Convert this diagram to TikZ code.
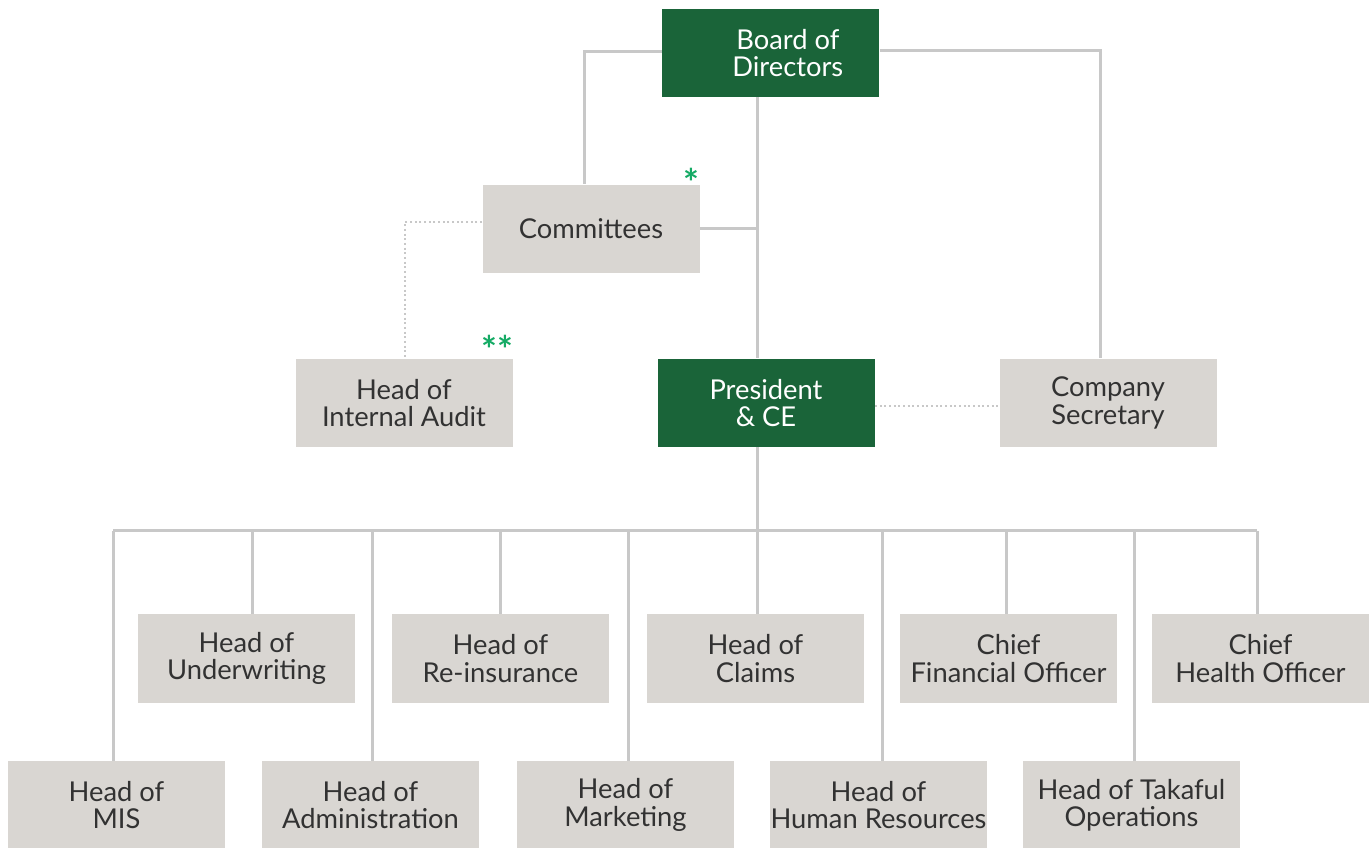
\documentclass[tikz,border=0pt]{standalone}
\usepackage{fontspec}
\setmainfont{Lato}
\definecolor{boardgreen}{RGB}{26,100,57}
\definecolor{boxgray}{RGB}{217,214,210}
\definecolor{linegray}{RGB}{200,200,200}
\definecolor{textgray}{RGB}{50,50,50}
\definecolor{stargreen}{RGB}{20,170,100}
\tikzset{every picture/.style={line width=0.75pt}}
\tikzset{
  unitbox/.style={rectangle, minimum width=162.75pt, minimum height=66pt, inner sep=0.75pt,
    align=center, font=\fontsize{20.5}{20.5}\selectfont},
  greenbox/.style={unitbox, fill=boardgreen, text=white},
  graybox/.style={unitbox, fill=boxgray, text=textgray},
  link/.style={draw=linegray, line width=2.25pt},
  dotlink/.style={draw=linegray, line width=1.5pt, dotted},
  note/.style={text=stargreen, inner sep=0pt, font=\fontsize{28}{28}\bfseries}
}

\begin{document}
\begin{tikzpicture}[x=0.75pt,y=0.75pt,yscale=-1]
\useasboundingbox (0,0) rectangle (1372,848);
%Top level
\node[greenbox] (board) at (770.5,53) {\hspace*{26pt}Board of\\\hspace*{26pt}Directors};
\node[graybox] (comm) at (591,229) {Committees};
\node[graybox] (audit) at (404,403) {Head of\\Internal Audit};
\node[greenbox] (pres) at (766,403) {President\\\& CE};
\node[graybox] (sec) at (1108,403) {Company\\Secretary};
% Asterisks
\node[note] (n1) at (691,182) {*};
\node[note] (n2) at (497,349) {**};
%Second row
\node[graybox] (uw) at (246.5,658.5) {Head of\\Underwriting};
\node[graybox] (reins) at (500.5,658.5) {Head of\\Re-insurance};
\node[graybox] (claims) at (755.5,658.5) {Head of\\Claims};
\node[graybox] (cfo) at (1008.5,658.5) {Chief\\Financial Officer};
\node[graybox] (cho) at (1260.5,658.5) {Chief\\Health Officer};
%Third row
\node[graybox] (mis) at (116.5,805) {Head of\\MIS};
\node[graybox] (admin) at (370.5,805) {Head of\\Administration};
\node[graybox] (mkt) at (625.5,805) {Head of\\Marketing};
\node[graybox] (hr) at (878.5,805) {Head of\\Human Resources};
\node[graybox] (tak) at (1131.5,805) {Head of Takaful\\Operations};

%Connectors
\coordinate (bus) at (757,531);
\draw[link] (board.west |- 0,52) -| (comm.north -| 584,0);
\draw[link] (board.east |- 0,51) -| (sec.north -| 1100,0);
\draw[link] (board.south -| bus) -- (pres.north -| bus);
\draw[link] (comm.east |- 0,229) -- (757,229);
\draw[dotlink] (comm.west |- 0,222) -| (audit.north -| 405,0);
\draw[dotlink] (pres.east |- 0,406) -- (sec.west |- 0,406);
\draw[link] (pres.south -| bus) -- (bus);
\draw[link] (113,531) -- (1257,531);
\foreach \n/\x in {mis/113, uw/252, admin/372, reins/500, mkt/628, claims/757, hr/882, cfo/1006, tak/1134, cho/1257}
  \draw[link] (\n.north -| \x,0) -- (\x,531);

\end{tikzpicture}
\end{document}
